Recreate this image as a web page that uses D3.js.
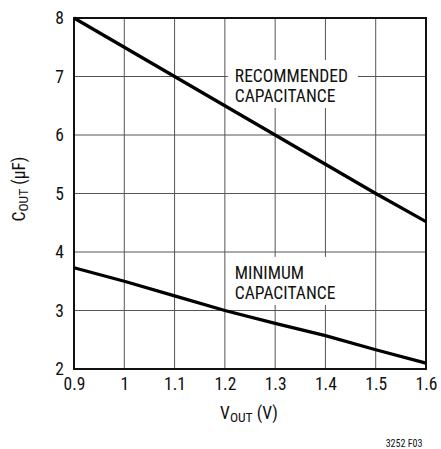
<!DOCTYPE html>
<html lang="en">
<head>
  <meta charset="UTF-8">
  <title>index</title>
  <style type="text/css">
    body { margin: 0; background: #fff; }
    svg text { font-family: "Liberation Sans Narrow", "Roboto Condensed", "Liberation Sans", Arial, sans-serif; fill: #111; }
    .grid line { stroke: #555; stroke-width: 1; }
  </style>
</head>
<body>
  <svg id="chart" width="441" height="449"></svg>

<script src="https://d3js.org/d3.v7.min.js"></script>
<script>
  // data
  const vout = [0.9, 1.0, 1.1, 1.2, 1.3, 1.4, 1.5, 1.6]
  const recommended = [8.0, 7.5, 7.0, 6.5, 6.0, 5.5, 5.0, 4.52]
  const minimum = [3.73, 3.5, 3.25, 3.0, 2.78, 2.57, 2.33, 2.1]
  const xTicks = [0.9, 1, 1.1, 1.2, 1.3, 1.4, 1.5, 1.6]
  const yTicks = [2, 3, 4, 5, 6, 7, 8]
  const labels = [
    { lines: ['RECOMMENDED', 'CAPACITANCE'], x: 1.2, y: 6.906 },
    { lines: ['MINIMUM', 'CAPACITANCE'], x: 1.2, y: 3.54 }
  ]

  const pLeft = 74, pRight = 426, pTop = 18, pBottom = 369
  const svg = d3.select('#chart')

  const x = d3.scaleLinear().domain([0.9, 1.6]).range([pLeft, pRight])
  const y = d3.scaleLinear().domain([2, 8]).range([pBottom, pTop])

  // grid
  const grid = svg.append('g').attr('class', 'grid')
  grid.selectAll('.vx').data(xTicks.slice(1, -1)).enter().append('line')
    .attr('x1', d => x(d)).attr('x2', d => x(d))
    .attr('y1', pTop).attr('y2', pBottom)
  grid.selectAll('.hy').data(yTicks.slice(1, -1)).enter().append('line')
    .attr('x1', pLeft).attr('x2', pRight)
    .attr('y1', d => y(d)).attr('y2', d => y(d))

  // label knockouts (y is the first baseline)
  labels.forEach(l => {
    const tx = x(l.x) + 10
    const ty = y(l.y)
    svg.append('rect').attr('x', tx - 7).attr('y', ty - 22)
      .attr('width', 130).attr('height', 48).attr('fill', '#fff')
    l.lines.forEach((t, i) => {
      svg.append('text').attr('x', tx).attr('y', ty + i * 20)
        .attr('font-size', 17.5).text(t)
    })
  })

  // frame
  svg.append('rect').attr('x', pLeft).attr('y', pTop)
    .attr('width', pRight - pLeft).attr('height', pBottom - pTop)
    .attr('fill', 'none').attr('stroke', '#111').attr('stroke-width', 2)

  // curves
  const line = d3.line().x((d, i) => x(vout[i])).y(d => y(d))
  ;[recommended, minimum].forEach(s => {
    svg.append('path').attr('d', line(s))
      .attr('fill', 'none').attr('stroke', '#000').attr('stroke-width', 3.2)
  })

  // axes
  const xAxis = d3.axisBottom(x).tickValues(xTicks).tickSize(0).tickPadding(9)
    .tickFormat(d3.format('~g'))
  svg.append('g').attr('transform', `translate(0,${pBottom})`).call(xAxis)
    .call(g => g.select('.domain').remove())
    .selectAll('text').attr('font-size', 17.5).attr('dy', '0.71em')
  const yAxis = d3.axisLeft(y).tickValues(yTicks).tickSize(0).tickPadding(10)
    .tickFormat(d3.format('d'))
  svg.append('g').attr('transform', `translate(${pLeft},0)`).call(yAxis)
    .call(g => g.select('.domain').remove())
    .selectAll('text').attr('font-size', 17.5)

  // axis titles
  const xt = svg.append('text').attr('x', 249).attr('y', 419)
    .attr('text-anchor', 'middle').attr('font-size', 17.5)
  xt.append('tspan').text('V')
  xt.append('tspan').attr('font-size', 13.5).attr('dy', 3).text('OUT')
  xt.append('tspan').attr('dy', -3).text(' (V)')

  const yt = svg.append('text').attr('transform', 'translate(25,189) rotate(-90)')
    .attr('text-anchor', 'middle').attr('font-size', 17.5)
  yt.append('tspan').text('C')
  yt.append('tspan').attr('font-size', 13.5).attr('dy', 3).text('OUT')
  yt.append('tspan').attr('dy', -3).text(' (µF)')

  svg.append('text').attr('x', 404).attr('y', 447).attr('text-anchor', 'middle')
    .attr('font-size', 10).text('3252 F03')
</script>
</body>
</html>
